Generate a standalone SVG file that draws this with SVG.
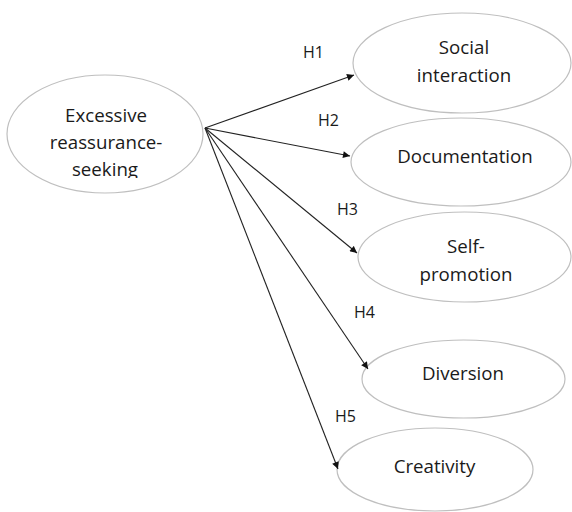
<svg xmlns="http://www.w3.org/2000/svg" width="572" height="512" viewBox="0 0 572 512">
<style>
.node ellipse{fill:#ffffff;stroke:#bfbfbf;stroke-width:1.2}
.node text{font-family:"Open Sans","Noto Sans","Liberation Sans",sans-serif;font-size:18.7px;fill:#1a1a1a;text-anchor:middle}
.lbl{font-family:"Open Sans","Noto Sans","Liberation Sans",sans-serif;font-size:16px;fill:#1a1a1a}
.conn line{stroke:#222222;stroke-width:1.1;marker-end:url(#ah)}
</style>
<defs>
<marker id="ah" viewBox="0 0 10 10" refX="10" refY="5" markerWidth="9" markerHeight="7" markerUnits="userSpaceOnUse" orient="auto">
<path d="M0,0 L10,5 L0,10 z" fill="#111111"/>
</marker>
<clipPath id="clipSrc"><rect x="0" y="0" width="220" height="178"/></clipPath>
</defs>
<rect width="572" height="512" fill="#ffffff"/>
<g id="n-source" class="node">
<ellipse cx="105" cy="134" rx="98" ry="59"/>
<text x="106" y="122">Excessive</text>
<text x="106" y="149">reassurance-</text>
<text x="105" y="176" clip-path="url(#clipSrc)">seeking</text>
</g>
<g id="n-social" class="node">
<ellipse cx="462" cy="63" rx="109" ry="50"/>
<text x="464" y="54">Social</text>
<text x="464" y="82">interaction</text>
</g>
<g id="n-documentation" class="node">
<ellipse cx="461" cy="162" rx="110" ry="44"/>
<text x="465" y="163">Documentation</text>
</g>
<g id="n-selfpromotion" class="node">
<ellipse cx="464.5" cy="257" rx="106.5" ry="45"/>
<text x="466" y="253">Self-</text>
<text x="466" y="281">promotion</text>
</g>
<g id="n-diversion" class="node">
<ellipse cx="463.5" cy="379" rx="101.5" ry="39"/>
<text x="463" y="380">Diversion</text>
</g>
<g id="n-creativity" class="node">
<ellipse cx="435" cy="469.5" rx="98" ry="41.5"/>
<text x="434.5" y="473">Creativity</text>
</g>
<g id="connectors" class="conn">
<line x1="205" y1="128" x2="354" y2="75"/>
<line x1="205" y1="128" x2="350" y2="156"/>
<line x1="205" y1="128" x2="357" y2="253"/>
<line x1="205" y1="128" x2="368" y2="369"/>
<line x1="205" y1="128" x2="338" y2="469"/>
</g>
<g id="labels">
<text class="lbl" x="303" y="58">H1</text>
<text class="lbl" x="318" y="126">H2</text>
<text class="lbl" x="337" y="215">H3</text>
<text class="lbl" x="354" y="318">H4</text>
<text class="lbl" x="335" y="422">H5</text>
</g>
</svg>
